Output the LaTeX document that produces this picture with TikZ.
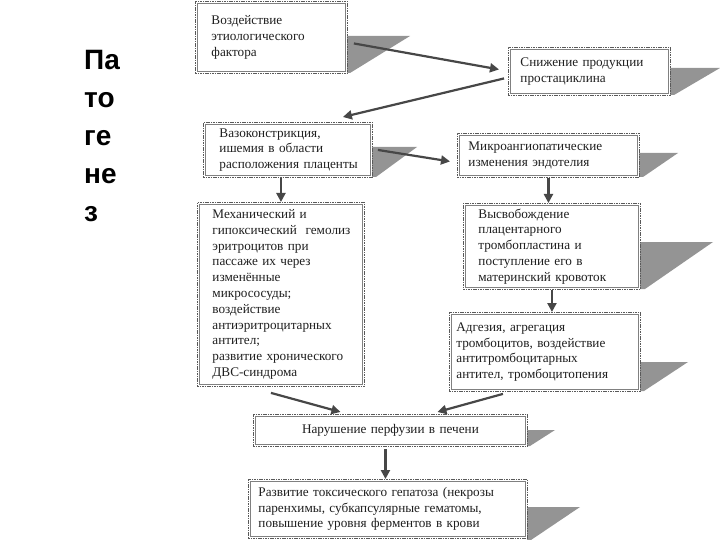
\documentclass[tikz,border=0pt]{standalone}
\usepackage{fontspec}
\setmainfont{Liberation Serif}
\newfontfamily\titlefont{Liberation Sans}
\usetikzlibrary{arrows.meta}
\hfuzz=20pt
\tikzset{
  box/.style={draw=black!65, line width=0.9pt, dash pattern=on 1.6pt off 0.8pt,
    fill=white, anchor=north west, inner ysep=0pt, align=left,
    font=\fontsize{13.2}{15.8}\selectfont, text=black!88},
  innerline/.style={draw=black!50, line width=0.6pt},
  shadowfill/.style={fill=black!42, draw=none},
  arr/.style={draw=black!72, line width=2.2pt, -{Triangle[length=9pt,width=9pt]}},
  ttl/.style={font=\titlefont\bfseries\fontsize{28}{28}\selectfont, anchor=base west, inner sep=0pt}
}
\begin{document}
\begin{tikzpicture}[x=1pt,y=-1pt]
\useasboundingbox (0,0) rectangle (720,540);

% title
\node[ttl] (t1) at (84,70) {Па};
\node[ttl] (t2) at (84,108) {то};
\node[ttl] (t3) at (84,146) {ге};
\node[ttl] (t4) at (84,184) {не};
\node[ttl] (t5) at (84,222) {з};

% shadows
\fill[shadowfill] (347,36) -- (410,36) -- (350,73) -- (347,73) -- cycle;
\fill[shadowfill] (670,68) -- (720,68) -- (674,95) -- (670,95) -- cycle;
\fill[shadowfill] (372,147) -- (417,147) -- (376,177) -- (372,177) -- cycle;
\fill[shadowfill] (639,153) -- (678,153) -- (643,177) -- (639,177) -- cycle;
\fill[shadowfill] (640,242) -- (713,242) -- (645,289) -- (640,289) -- cycle;
\fill[shadowfill] (640,362) -- (688,362) -- (644,391) -- (640,391) -- cycle;
\fill[shadowfill] (527,430) -- (555,430) -- (530,446) -- (527,446) -- cycle;
\fill[shadowfill] (527,507) -- (580,507) -- (531,540) -- (527,540) -- cycle;

% boxes
\node[box, minimum width=152pt, minimum height=72pt, inner xsep=16pt, text width=120pt] (b1) at (195,1)
  {Воздействие\\этиологического\\фактора};
\node[box, minimum width=162pt, minimum height=48pt, inner xsep=12pt, text width=138pt] (b2) at (508,47)
  {Снижение~продукции\\простациклина};
\node[box, minimum width=169pt, minimum height=55pt, inner xsep=16pt, text width=137pt] (b3) at (203,122)
  {Вазоконстрикция,\\ишемия~в~области\\расположения~плаценты};
\node[box, minimum width=182pt, minimum height=44pt, inner xsep=11pt, text width=160pt] (b4) at (457,133)
  {Микроангиопатические\\изменения~эндотелия};
\node[box, minimum width=167pt, minimum height=184pt, inner xsep=15pt, text width=137pt] (b5) at (197,202)
  {Механический~и\\гипоксический~~гемолиз\\эритроцитов~при\\пассаже~их~через\\изменённые\\микрососуды;\\воздействие\\антиэритроцитарных\\антител;\\развитие~хронического\\ДВС-синдрома};
\node[box, minimum width=177pt, minimum height=86pt, inner xsep=15pt, text width=147pt] (b6) at (463,203)
  {Высвобождение\\плацентарного\\тромбопластина~и\\поступление~его~в\\материнский~кровоток};
\node[box, minimum width=191pt, minimum height=79pt, inner xsep=7pt, text width=177pt] (b7) at (449,312)
  {Адгезия,~агрегация\\тромбоцитов,~воздействие\\антитромбоцитарных\\антител,~тромбоцитопения};
\node[box, minimum width=274pt, minimum height=32pt, inner xsep=8pt, text width=258pt, align=center] (b8) at (253,414)
  {Нарушение перфузии в печени};
\node[box, minimum width=279pt, minimum height=59pt, inner xsep=10pt, text width=259pt] (b9) at (248,479)
  {Развитие~токсического~гепатоза~(некрозы\\паренхимы,~субкапсулярные~гематомы,\\повышение~уровня~ферментов~в~крови};

\foreach \n in {b1,b2,b3,b4,b5,b6,b7,b8,b9}
  \draw[innerline] ([shift={(2.5,2.5)}]\n.north west) rectangle ([shift={(-2.5,-2.5)}]\n.south east);

% connectors
\draw[arr] ([shift={(6,6)}]b1.east) -- ([shift={(-9,-2)}]b2.west);
\draw[arr] ([shift={(-4,7)}]b2.west) -- ([shift={(-30,-5)}]b3.north east);
\draw[arr] ([shift={(5,0)}]b3.east) -- ([shift={(-7,6)}]b4.west);
\draw[arr] (b3.south -| b5.north) -- (b5.north);
\draw[arr] (b4.south) -- (b4.south |- b6.north);
\draw[arr] (b6.south) -- (b6.south |- b7.north);
\draw[arr] ([shift={(-10,6)}]b5.south) -- ([shift={(-50,-2)}]b8.north);
\draw[arr] ([shift={(-42,2)}]b7.south) -- ([shift={(47,-2)}]b8.north);
\draw[arr] ([shift={(-5,2)}]b8.south) -- ([shift={(-5,0)}]b8.south |- b9.north);
\end{tikzpicture}
\end{document}
